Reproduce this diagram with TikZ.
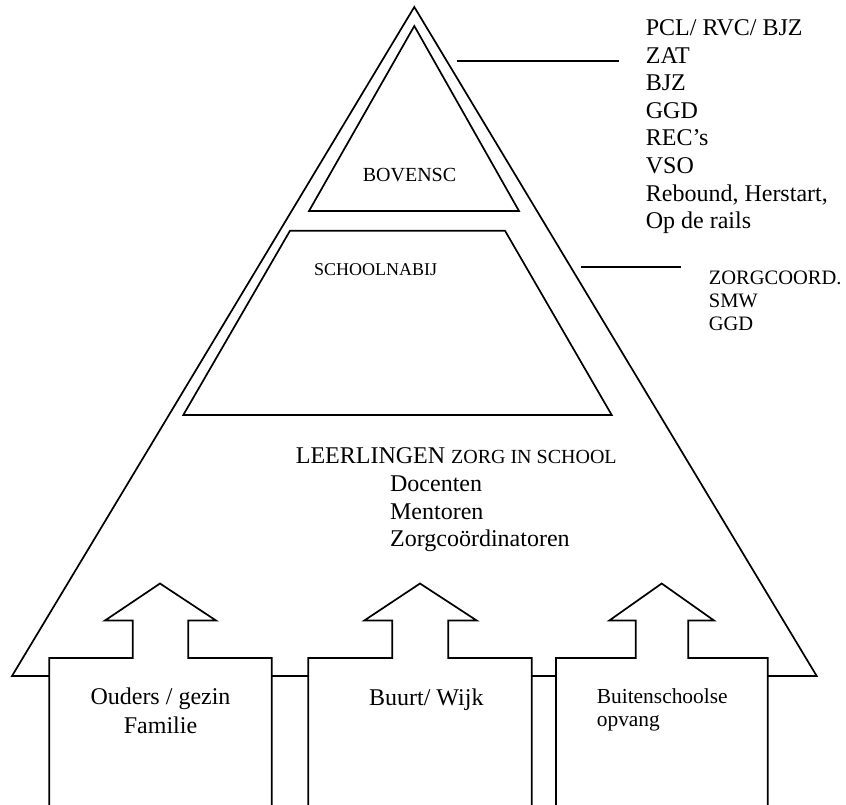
\documentclass[tikz,border=0pt]{standalone}
\usepackage{fontspec}
\setmainfont{Liberation Serif}
\newcommand\myfs[2]{\fontsize{#1}{#2}\selectfont}
\begin{document}
\begin{tikzpicture}[x=1pt,y=-1pt,line width=1.7pt,line join=miter,
  txt/.style={inner sep=0pt,anchor=base west},
  ctxt/.style={inner sep=0pt,anchor=base},
  pointer/.style={line width=2pt},
  house/.style={draw=black,fill=white,line width=1.7pt}]
\useasboundingbox (0,0) rectangle (846,805);
\fill[white] (0,0) rectangle (846,805);
% pyramid
\draw (12,676) -- (414.3,7) -- (816.7,676) -- cycle;
\draw (309,211) -- (414.3,26) -- (519,211) -- cycle;
\draw (183.3,415) -- (290,230.7) -- (505,230.7) -- (611.7,415) -- cycle;
% pointer lines
\coordinate (l1a) at (456.7,61);
\coordinate (l1b) at (619,61);
\coordinate (l2a) at (580.7,267.3);
\coordinate (l2b) at (680.7,267.3);
\draw[pointer] (l1a) -- (l1b);
\draw[pointer] (l2a) -- (l2b);
% houses
\draw[house] (49.3,812) -- (49.3,658) -- (132.7,658) -- (132.7,620.5) -- (105,620.5)
  -- (160,583.5) -- (216,620.5) -- (188.3,620.5) -- (188.3,658) -- (271.7,658) -- (271.7,812);
\draw[house] (308.3,812) -- (308.3,658) -- (392.3,658) -- (392.3,620.5) -- (364.3,620.5)
  -- (420,583.5) -- (476.7,620.5) -- (448.3,620.5) -- (448.3,658) -- (531.7,658) -- (531.7,812);
\draw[house] (556,812) -- (556,658) -- (635.7,658) -- (635.7,620.5) -- (609.3,620.5)
  -- (661.7,583.5) -- (714,620.5) -- (688.3,620.5) -- (688.3,658) -- (767.7,658) -- (767.7,812);
% texts in pyramid
\node[txt,font=\myfs{20}{23}] (bov) at (362,181.7) {BOVENSC};
\node[txt,font=\myfs{18}{21}] (snb) at (313.3,275) {SCHOOLNABIJ};
\node[txt,font=\myfs{24}{27.6}] (leer) at (295,463.5) {LEERLINGEN \myfs{20}{23}ZORG IN SCHOOL};
\foreach \t [count=\i from 0] in {Docenten,Mentoren,Zorgcoördinatoren}
  \node[txt,font=\myfs{24}{27.6},name=zis\i] at (389.3,{491.5+27.6*\i}) {\t};
% right texts
\foreach \t [count=\i from 0] in {PCL/ RVC/ BJZ,ZAT,BJZ,GGD,REC’s,VSO,{Rebound, Herstart,},Op de rails}
  \node[txt,font=\myfs{24}{27.6},name=bs\i] at (645,{35.5+27.6*\i}) {\t};
\foreach \t [count=\i from 0] in {ZORGCOORD.,SMW,GGD}
  \node[txt,font=\myfs{20.5}{23},name=zc\i] at (708,{284+23*\i}) {\t};
% box texts
\node[ctxt,font=\myfs{24}{27.6}] (oud1) at (160.5,704) {Ouders / gezin};
\node[ctxt,font=\myfs{24}{27.6}] (oud2) at (160.5,733.3) {Familie};
\node[ctxt,font=\myfs{24}{27.6}] (buurt) at (426.3,705.7) {Buurt/ Wijk};
\node[txt,font=\myfs{21.4}{23.4}] (bui1) at (596,703.3) {Buitenschoolse};
\node[txt,font=\myfs{21.4}{23.4}] (bui2) at (596,726.7) {opvang};
\end{tikzpicture}
\end{document}
